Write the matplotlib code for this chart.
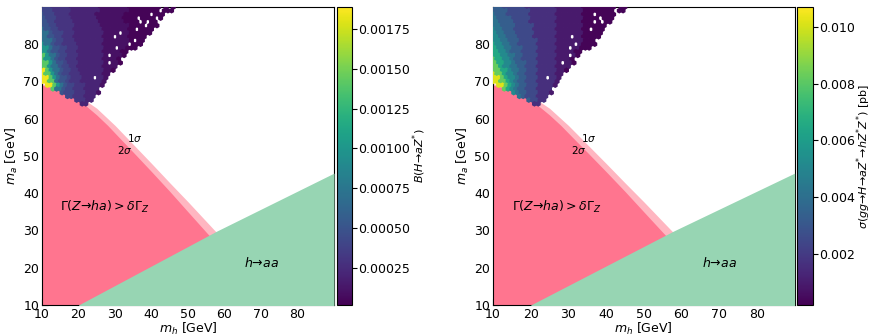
import numpy as np
import matplotlib.pyplot as plt
from matplotlib.ticker import MultipleLocator

# Exclusion contours (m_h, m_a)
dark_mh = [10, 13, 16, 19, 22, 25, 28, 31, 35, 40, 45, 50, 55.3, 60]
dark_ma = [69, 68.3, 67.2, 65.6, 63.5, 61, 58.2, 55.1, 51, 45.8, 40.5, 35, 29.2, 24.3]
light_mh = [10, 15, 20, 25, 30, 35, 40, 45, 50, 57.5, 62]
light_ma = [69.4, 68.4, 66.2, 62.8, 58.2, 53.1, 48, 42.8, 37.7, 29.8, 25]
green_mh = [20, 57.8, 90]
green_ma = [10, 29.8, 45.4]

# Scan points: one char per 1 GeV cell, m_h from 10, m_a from 90 downwards
grid_mh0 = 10
grid_ma0 = 90
left_rows = [
    "44433" "33322" "2222221" "1111111" "000000000.0.0",
    "44433" "33322" "2222221" "1111111" "00000000.000",
    "54443" "33322" "2222211" "1111110" "000000.000",
    "54443" "33322" "2222211" "1111100" "00.0000.0",
    "55443" "33332" "2222221" "1111110" "000.0.00",
    "55443" "33332" "2222221" "1111111" "0000.000",
    "65544" "33332" "2222222" "1111111" "00.0000",
    "66544" "43332" "2222222" "1111.11" "000000",
    "66554" "43332" "2222222" "111.11100000",
    "66654" "43332" "2222222" "11111110.00",
    "76654" "43333" "2222222" "1111111.000",
    "77655" "44333" "2222222" "111.11000",
    "77655" "44333" "2222222" "1111100",
    "87665" "44333" "2222222" "1.1110",
    "87765" "44333" "2222222" "11110",
    "88765" "54333" "2222222" "1.110",
    "88766" "54433" "2222222" "1111",
    "98766" "54433" "2222222" "110",
    "98876" "54433" "3222222" "11",
    "99876" "55433" "3222.22" "1",
    "99886" "55433" "3222222" "1",
    ".9987" "65443" "3322221",
    "...86" "65443" "332222",
    "....." "54443" "332221",
    "....." "..443" "33222",
    "....." "....3" "3322",
    "....." "....." ".22",
]
right_rows = [
    "44433" "33332" "2222222" "1111111" "000000000.00",
    "44443" "33333" "2222222" "1111111" "00000000.00",
    "54443" "33333" "2222222" "1111111" "000.00000",
    "54444" "33333" "2222222" "1111111" "0000.000",
    "55444" "43333" "2222222" "1111111" "000.0.00",
    "55444" "43333" "3222222" "1111111" "000000",
    "65544" "43333" "3222222" "1111111" "00.000",
    "65544" "43333" "3222222" "1111111" "00000",
    "66554" "44333" "3222222" "1111.11" "00000",
    "66554" "44333" "3322222" "1111111" "000.",
    "76655" "44333" "3322222" "11111.10000",
    "76655" "44433" "3322222" "111.11000",
    "77665" "44433" "3322222" "1111100",
    "77665" "54433" "3322222" "111.10",
    "87766" "54433" "3322222" "11110",
    "87766" "54443" "3322222" "1.110",
    "88766" "55443" "3322222" "1111",
    "88776" "55443" "3322222" "110",
    "98876" "65443" "3322222" "11",
    "99876" "65443" "3322.22" "1",
    "99887" "65443" "3322222" "1",
    ".9987" "65443" "3322221",
    "...87" "65443" "332222",
    "....." "65443" "332221",
    "....." "..543" "33222",
    "....." "....4" "3322",
    "....." "....." ".22",
]
left_levels = [0.00003, 0.0001, 0.0002, 0.0003, 0.0004, 0.0005, 0.0007, 0.001, 0.0014, 0.00185]
right_levels = [0.0003, 0.0009, 0.0016, 0.0025, 0.0033, 0.0042, 0.0052, 0.0065, 0.0082, 0.0102]

left_cbar_label = r"$B(H$→$aZ^{*})$"
right_cbar_label = r"$\sigma(gg$→$H$→$aZ^{*}$→$hZ^{*}Z^{*})$ [pb]"


def cells(rows, levels):
    mh, ma, val = [], [], []
    for i, row in enumerate(rows):
        for j, ch in enumerate(row):
            if ch != '.':
                # staggered rows give the honeycomb look of the scan
                mh.append(grid_mh0 + j + 0.5 * (i % 2))
                ma.append(grid_ma0 - i)
                val.append(levels[int(ch)])
    return np.array(mh), np.array(ma), np.array(val)


def panel(ax, cax, rows, levels, vmin, vmax, clabel, cticks):
    ax.fill_between(light_mh, 0, light_ma, color='#ffb6c1', lw=0, zorder=1)
    ax.fill_between(dark_mh, 0, dark_ma, color='#ff758f', lw=0, zorder=2)
    ax.fill_between(green_mh, 0, green_ma, color='#97d5b3', lw=0, zorder=3)
    mh, ma, val = cells(rows, levels)
    sc = ax.scatter(mh, ma, c=val, cmap='viridis', vmin=vmin, vmax=vmax,
                    s=17, marker='h', linewidths=0, zorder=4)
    ax.text(15, 36.2, r"$\Gamma(Z$→$ha) > \delta\Gamma_Z$", fontsize=9,
            ha='left', va='center', zorder=5)
    ax.text(70, 21.3, r"$h$→$aa$", fontsize=9, ha='center', va='center', zorder=5)
    ax.text(35.4, 54.7, r"$1\sigma$", fontsize=7.5, ha='center', va='center', zorder=5)
    ax.text(32.8, 51.6, r"$2\sigma$", fontsize=7.5, ha='center', va='center', zorder=5)
    ax.set_xlim(10, 90)
    ax.set_ylim(10, 90)
    ax.set_xticks(np.arange(10, 90, 10))
    ax.set_yticks(np.arange(10, 90, 10))
    ax.xaxis.set_minor_locator(MultipleLocator(2))
    ax.yaxis.set_minor_locator(MultipleLocator(2))
    ax.tick_params(which='both', direction='in', labelsize=9, pad=2)
    ax.tick_params(which='major', length=4)
    ax.tick_params(which='minor', length=2)
    ax.set_xlabel(r"$m_h$ [GeV]", fontsize=9, labelpad=0)
    ax.set_ylabel(r"$m_a$ [GeV]", fontsize=9, labelpad=2)
    cb = plt.colorbar(sc, cax=cax)
    cb.set_ticks(cticks)
    cb.ax.tick_params(labelsize=9, pad=1)
    cb.set_label(clabel, fontsize=8, labelpad=0)


fig = plt.figure(figsize=(8.73, 3.36), dpi=100)
ax1 = fig.add_axes([0.0481, 0.0923, 0.3345, 0.887])
cax1 = fig.add_axes([0.386, 0.0923, 0.0172, 0.887])
ax2 = fig.add_axes([0.5647, 0.0923, 0.3455, 0.887])
cax2 = fig.add_axes([0.9135, 0.0923, 0.0172, 0.887])

panel(ax1, cax1, left_rows, left_levels, 0.000015, 0.00189, left_cbar_label,
      [0.00025, 0.0005, 0.00075, 0.001, 0.00125, 0.0015, 0.00175])
panel(ax2, cax2, right_rows, right_levels, 0.0002, 0.0107, right_cbar_label,
      [0.002, 0.004, 0.006, 0.008, 0.010])

fig.savefig("out.png", dpi=100)
